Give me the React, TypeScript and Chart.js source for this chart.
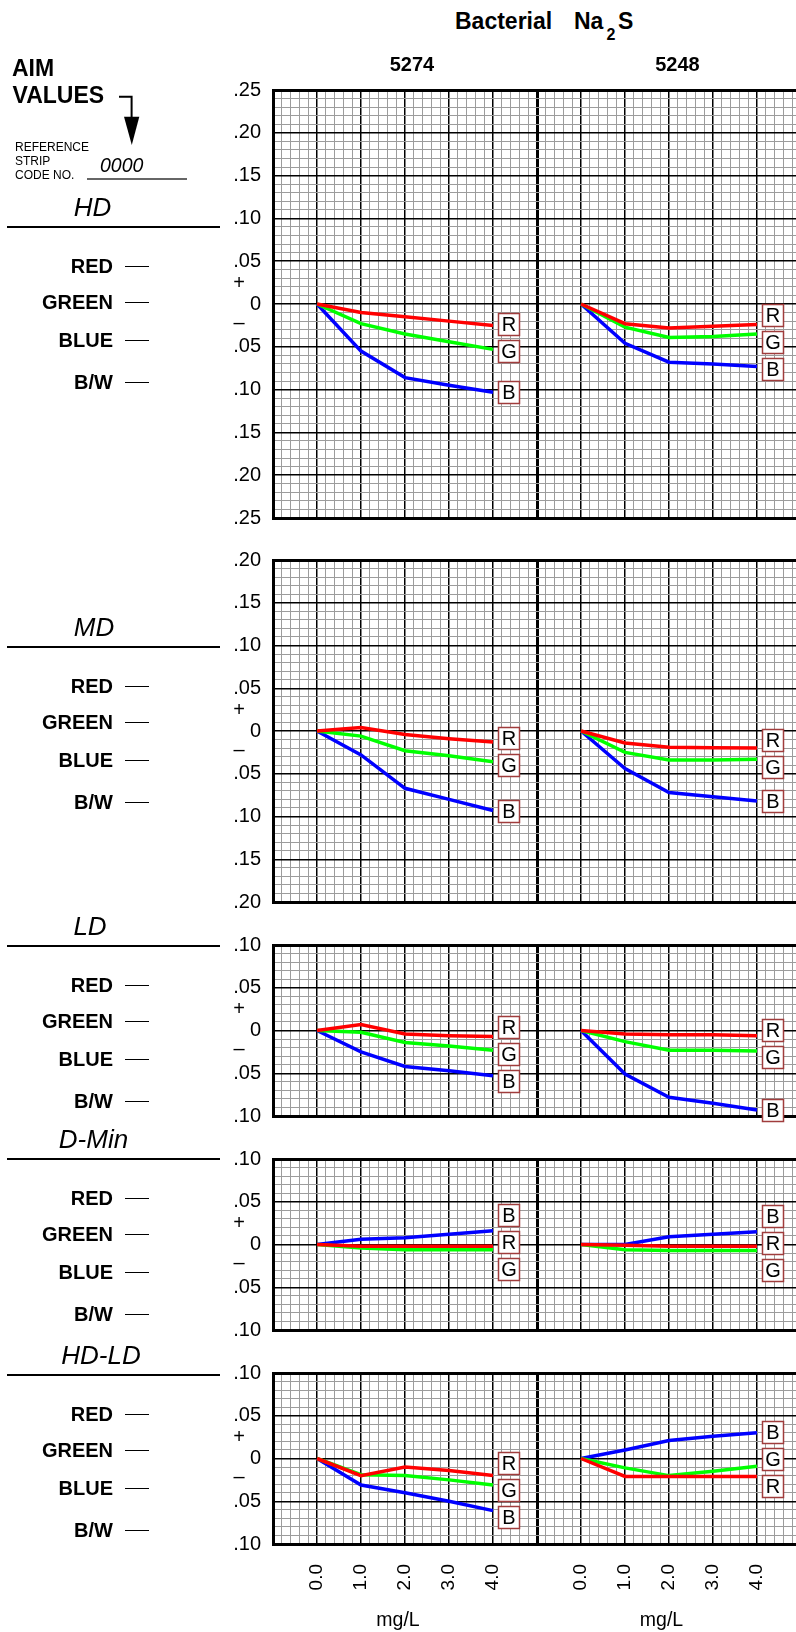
import React, { useEffect, useRef } from 'react';
import { Chart, registerables } from 'chart.js';

Chart.register(...registerables);

// ---------------- data ----------------
const DOSES = [0, 1, 2, 3, 4];
const DOSE_LABELS = ['0.0', '1.0', '2.0', '3.0', '4.0'];
const STRIP_CODES = ['5274', '5248'];
const ROW_NAMES = ['HD', 'MD', 'LD', 'D-Min', 'HD-LD'];
const ROW_LIMITS = [0.25, 0.2, 0.1, 0.1, 0.1];
const CHANNEL_NAMES = ['RED', 'GREEN', 'BLUE', 'B/W'];
const SERIES_LETTERS = ['R', 'G', 'B'];

const HD_5274_RED = [0, -0.010, -0.015, -0.020, -0.025];
const HD_5274_GREEN = [0, -0.023, -0.035, -0.044, -0.053];
const HD_5274_BLUE = [0, -0.055, -0.086, -0.095, -0.103];
const HD_5248_RED = [0, -0.023, -0.028, -0.026, -0.024];
const HD_5248_GREEN = [0, -0.027, -0.039, -0.038, -0.035];
const HD_5248_BLUE = [0, -0.046, -0.068, -0.070, -0.073];

const MD_5274_RED = [0, 0.004, -0.004, -0.009, -0.013];
const MD_5274_GREEN = [0, -0.006, -0.023, -0.029, -0.036];
const MD_5274_BLUE = [0, -0.028, -0.067, -0.080, -0.093];
const MD_5248_RED = [0, -0.014, -0.019, -0.0195, -0.020];
const MD_5248_GREEN = [0, -0.025, -0.034, -0.034, -0.033];
const MD_5248_BLUE = [0, -0.044, -0.072, -0.077, -0.082];

const LD_5274_RED = [0, 0.007, -0.004, -0.006, -0.007];
const LD_5274_GREEN = [0, -0.002, -0.014, -0.018, -0.023];
const LD_5274_BLUE = [0, -0.025, -0.042, -0.047, -0.053];
const LD_5248_RED = [0, -0.004, -0.005, -0.005, -0.006];
const LD_5248_GREEN = [0, -0.013, -0.023, -0.023, -0.024];
const LD_5248_BLUE = [0, -0.051, -0.078, -0.085, -0.093];

const DMIN_5274_RED = [0, -0.002, -0.002, -0.002, -0.002];
const DMIN_5274_GREEN = [0, -0.004, -0.006, -0.006, -0.006];
const DMIN_5274_BLUE = [0, 0.006, 0.008, 0.012, 0.016];
const DMIN_5248_RED = [0, -0.001, -0.002, -0.002, -0.002];
const DMIN_5248_GREEN = [0, -0.006, -0.007, -0.007, -0.007];
const DMIN_5248_BLUE = [0, 0.0, 0.009, 0.012, 0.015];

const HDLD_5274_RED = [0, -0.020, -0.010, -0.014, -0.020];
const HDLD_5274_GREEN = [0, -0.019, -0.020, -0.025, -0.031];
const HDLD_5274_BLUE = [0, -0.031, -0.040, -0.050, -0.061];
const HDLD_5248_RED = [0, -0.021, -0.021, -0.021, -0.021];
const HDLD_5248_GREEN = [0, -0.011, -0.020, -0.015, -0.009];
const HDLD_5248_BLUE = [0, 0.010, 0.021, 0.026, 0.030];

const ROW_SERIES = [
  [[HD_5274_RED, HD_5274_GREEN, HD_5274_BLUE], [HD_5248_RED, HD_5248_GREEN, HD_5248_BLUE]],
  [[MD_5274_RED, MD_5274_GREEN, MD_5274_BLUE], [MD_5248_RED, MD_5248_GREEN, MD_5248_BLUE]],
  [[LD_5274_RED, LD_5274_GREEN, LD_5274_BLUE], [LD_5248_RED, LD_5248_GREEN, LD_5248_BLUE]],
  [[DMIN_5274_RED, DMIN_5274_GREEN, DMIN_5274_BLUE], [DMIN_5248_RED, DMIN_5248_GREEN, DMIN_5248_BLUE]],
  [[HDLD_5274_RED, HDLD_5274_GREEN, HDLD_5274_BLUE], [HDLD_5248_RED, HDLD_5248_GREEN, HDLD_5248_BLUE]],
];

// ---------------- layout / style ----------------
const FONT = '"Liberation Sans", Arial, Helvetica, sans-serif';
const LINE_COLORS = ['#ff0000', '#00ff00', '#0000ff'];
const MINOR = '#9c9c9c';
const BOX_STROKE = '#a03c3c';
const U = 42.75;
const GRID_TOP = 90;
const PANEL_UNITS = [10, 8, 4, 4, 4];
const AXIS_LEFT = 273;
const CHART_RIGHT = 801;
const CANVAS_W = 812;
const PAD = 16;
const PAGE_H = 1632;
const LABEL_GAP = 27;

const panelTops: number[] = [];
const panelHeights: number[] = [];
{
  let u = 0;
  PANEL_UNITS.forEach((n) => {
    panelTops.push(Math.round(GRID_TOP + u * U));
    panelHeights.push(Math.round(n * U));
    u += n + 1;
  });
}

const HEADER_LINE_Y = [227, 647, 946, 1159, 1375];
const TITLE_CENTER_X = [92.5, 94, 90, 93.5, 101];
const CHANNEL_OFFSETS = [39, 75, 113, 155];

const near = (a: number, b: number) => Math.abs(a - b) < 1e-6;
const isInt = (v: number) => near(v, Math.round(v));

function fmtY(v: number) {
  const h = Math.round(v * 100);
  if (h % 5 !== 0) return '';
  if (h === 0) return '0';
  const a = Math.abs(h);
  return '.' + (a < 10 ? '0' + a : String(a));
}

function spreadLabels(ys: number[], gap: number): number[] {
  const order = ys.map((_, i) => i).sort((a, b) => ys[a] - ys[b]);
  let clusters = order.map((i) => ({ members: [i], center: ys[i] }));
  let merged = true;
  while (merged) {
    merged = false;
    for (let k = 0; k < clusters.length - 1; k++) {
      const a = clusters[k];
      const b = clusters[k + 1];
      const aBottom = a.center + ((a.members.length - 1) * gap) / 2;
      const bTop = b.center - ((b.members.length - 1) * gap) / 2;
      if (bTop - aBottom < gap) {
        const members = a.members.concat(b.members);
        const center = members.reduce((s, i) => s + ys[i], 0) / members.length;
        clusters.splice(k, 2, { members, center });
        merged = true;
        break;
      }
    }
  }
  const out: number[] = new Array(ys.length);
  clusters.forEach((c) =>
    c.members.forEach((i, j) => {
      out[i] = c.center + (j - (c.members.length - 1) / 2) * gap;
    })
  );
  return out;
}

const decorations = {
  id: 'decorations',
  afterDatasetsDraw(chart: any) {
    const ctx = chart.ctx;
    const ys = chart.scales.y;
    const y0 = ys.getPixelForValue(0);
    ctx.save();
    ctx.fillStyle = '#000';
    ctx.font = `20px ${FONT}`;
    ctx.textAlign = 'center';
    ctx.textBaseline = 'middle';
    ctx.fillText('+', ys.right - 34, y0 - 21);
    ctx.fillText('\u2013', ys.right - 34, y0 + 19);

    ['x1', 'x2'].forEach((axisId) => {
      const ends: { x: number; y: number; letter: string }[] = [];
      chart.data.datasets.forEach((ds: any, di: number) => {
        if (ds.xAxisID !== axisId) return;
        const meta = chart.getDatasetMeta(di);
        const pt = meta.data[meta.data.length - 1];
        ends.push({ x: pt.x, y: pt.y, letter: ds.letter });
      });
      const placed = spreadLabels(ends.map((e) => e.y), LABEL_GAP);
      ends.forEach((e, i) => {
        const bx = Math.round(e.x + 5) + 0.5;
        const by = Math.round(placed[i] - 11) + 0.5;
        ctx.fillStyle = '#fff';
        ctx.fillRect(bx, by, 21, 22);
        ctx.strokeStyle = BOX_STROKE;
        ctx.lineWidth = 1.5;
        ctx.strokeRect(bx, by, 21, 22);
        ctx.fillStyle = '#000';
        ctx.font = `20px ${FONT}`;
        ctx.fillText(e.letter, bx + 10.5, by + 12);
      });
    });
    ctx.restore();
  },
};

function PanelRow({ index }: { index: number }) {
  const ref = useRef<HTMLCanvasElement | null>(null);
  const top = panelTops[index];
  const areaH = panelHeights[index];
  const last = index === ROW_NAMES.length - 1;
  const bottomSpace = last ? PAGE_H - (top + areaH) : PAD;
  const canvasTop = top - PAD;
  const canvasH = PAD + areaH + bottomSpace;
  const lim = ROW_LIMITS[index];

  useEffect(() => {
    const datasets: any[] = [];
    for (let p = 0; p < 2; p++) {
      ROW_SERIES[index][p].forEach((vals, s) => {
        datasets.push({
          label: `${ROW_NAMES[index]} ${STRIP_CODES[p]} ${SERIES_LETTERS[s]}`,
          letter: SERIES_LETTERS[s],
          data: DOSES.map((d, i) => ({ x: d, y: vals[i] })),
          xAxisID: p === 0 ? 'x1' : 'x2',
          yAxisID: 'y',
          borderColor: LINE_COLORS[s],
          backgroundColor: LINE_COLORS[s],
          borderWidth: 3.5,
          pointRadius: 0,
          pointHoverRadius: 0,
          tension: 0,
          fill: false,
          order: s,
        });
      });
    }

    const xScale = () => ({
      type: 'linear',
      axis: 'x',
      position: 'bottom',
      stack: 'strips',
      min: -1,
      max: 5,
      offset: false,
      ticks: {
        display: last,
        stepSize: 0.2,
        autoSkip: false,
        minRotation: 90,
        maxRotation: 90,
        padding: 20,
        font: { family: FONT, size: 19 },
        color: '#000',
        callback: (v: number) => {
          const r = Math.round(v);
          if (isInt(v) && r >= 0 && r < DOSE_LABELS.length) return DOSE_LABELS[r];
          return '';
        },
      },
      grid: {
        drawTicks: false,
        color: (c: any) => {
          const v = c.tick ? c.tick.value : 0.5;
          return isInt(v) ? '#000' : MINOR;
        },
        lineWidth: (c: any) => {
          if (!c.tick) return 1;
          const v = c.tick.value;
          if (near(v, -1) || near(v, 5)) return 3;
          return isInt(v) ? 1.5 : 1;
        },
      },
      border: { display: true, color: '#000', width: 3 },
      afterFit: (s: any) => {
        s.height = last ? bottomSpace : 0;
        s.paddingLeft = 0;
        s.paddingRight = 0;
      },
    });

    const chart = new Chart(ref.current as HTMLCanvasElement, {
      type: 'line',
      data: { datasets },
      options: {
        responsive: false,
        animation: false,
        devicePixelRatio: 1,
        events: [],
        layout: {
          padding: { top: PAD, bottom: last ? 0 : PAD, left: 0, right: CANVAS_W - CHART_RIGHT },
        },
        plugins: { legend: { display: false }, tooltip: { enabled: false }, title: { display: false } },
        scales: {
          x1: xScale(),
          x2: xScale(),
          y: {
            type: 'linear',
            axis: 'y',
            position: 'left',
            min: -lim,
            max: lim,
            ticks: {
              stepSize: 0.01,
              autoSkip: false,
              padding: 12,
              font: { family: FONT, size: 20 },
              color: '#000',
              callback: (v: number) => fmtY(v),
            },
            grid: {
              drawTicks: false,
              color: (c: any) => {
                if (!c.tick) return MINOR;
                return Math.round(c.tick.value * 100) % 5 === 0 ? '#000' : MINOR;
              },
              lineWidth: (c: any) => {
                if (!c.tick) return 1;
                const v = c.tick.value;
                if (near(Math.abs(v), lim)) return 3;
                return Math.round(v * 100) % 5 === 0 ? 1.5 : 1;
              },
            },
            border: { display: true, color: '#000', width: 3 },
            afterFit: (s: any) => {
              s.width = AXIS_LEFT;
              s.paddingTop = 0;
              s.paddingBottom = 0;
            },
          },
        },
      } as any,
      plugins: [decorations],
    } as any);
    return () => chart.destroy();
  }, []);

  return (
    <canvas
      ref={ref}
      width={CANVAS_W}
      height={canvasH}
      style={{ position: 'absolute', left: 0, top: canvasTop, width: CANVAS_W, height: canvasH }}
    />
  );
}

type TxtProps = {
  x: number;
  y: number;
  size: number;
  bold?: boolean;
  italic?: boolean;
  align?: 'left' | 'center' | 'right';
  children: React.ReactNode;
};

function Txt({ x, y, size, bold, italic, align = 'left', children }: TxtProps) {
  return (
    <div
      style={{
        position: 'absolute',
        left: x,
        top: y - size * 0.4885,
        fontSize: size,
        lineHeight: `${size}px`,
        fontWeight: bold ? 'bold' : 'normal',
        fontStyle: italic ? 'italic' : 'normal',
        whiteSpace: 'nowrap',
        transform: align === 'center' ? 'translateX(-50%)' : align === 'right' ? 'translateX(-100%)' : undefined,
      }}
    >
      {children}
    </div>
  );
}

function Rule({ x, y, w, h, color = '#000' }: { x: number; y: number; w: number; h: number; color?: string }) {
  return <div style={{ position: 'absolute', left: x, top: Math.round(y - h / 2), width: w, height: h, background: color }} />;
}

export default function App() {
  return (
    <div
      style={{
        position: 'absolute',
        left: 0,
        top: 0,
        width: 796,
        height: PAGE_H,
        overflow: 'hidden',
        background: '#fff',
        fontFamily: FONT,
        color: '#000',
      }}
    >
      {ROW_NAMES.map((_, i) => (
        <PanelRow key={i} index={i} />
      ))}

      {/* header */}
      <Txt x={12} y={68.3} size={23} bold>AIM</Txt>
      <Txt x={12.5} y={95.7} size={23} bold>VALUES</Txt>
      <svg style={{ position: 'absolute', left: 0, top: 0 }} width={200} height={200}>
        <polyline points="119,96.7 131.6,96.7 131.6,118" fill="none" stroke="#000" strokeWidth={2} />
        <polygon points="124,116.7 139.3,116.7 131.8,145" fill="#000" />
      </svg>
      <Txt x={15} y={146.7} size={12}>REFERENCE</Txt>
      <Txt x={15} y={161} size={12}>STRIP</Txt>
      <Txt x={15} y={175} size={12}>CODE NO.</Txt>
      <Txt x={100} y={165.5} size={19.5} italic>0000</Txt>
      <Rule x={87} y={179} w={100} h={1.5} color="#666" />

      <Txt x={455} y={21.3} size={23} bold>Bacterial</Txt>
      <Txt x={574} y={21.3} size={23} bold>Na</Txt>
      <Txt x={606.5} y={34.4} size={16} bold>2</Txt>
      <Txt x={618} y={21.3} size={23} bold>S</Txt>
      <Txt x={412} y={64} size={20} bold align="center">{STRIP_CODES[0]}</Txt>
      <Txt x={677.5} y={64} size={20} bold align="center">{STRIP_CODES[1]}</Txt>

      {/* row labels */}
      {ROW_NAMES.map((name, i) => (
        <React.Fragment key={name}>
          <Txt x={TITLE_CENTER_X[i]} y={HEADER_LINE_Y[i] - 20} size={26} italic align="center">{name}</Txt>
          <Rule x={7} y={HEADER_LINE_Y[i]} w={213} h={2} />
          {CHANNEL_NAMES.map((ch, k) => (
            <React.Fragment key={ch}>
              <Txt x={113} y={HEADER_LINE_Y[i] + CHANNEL_OFFSETS[k]} size={20} bold align="right">{ch}</Txt>
              <Rule x={125} y={HEADER_LINE_Y[i] + CHANNEL_OFFSETS[k]} w={24} h={1} />
            </React.Fragment>
          ))}
        </React.Fragment>
      ))}

      {/* x-axis titles */}
      <Txt x={398} y={1620} size={19.5} align="center">mg/L</Txt>
      <Txt x={661.5} y={1620} size={19.5} align="center">mg/L</Txt>
    </div>
  );
}
